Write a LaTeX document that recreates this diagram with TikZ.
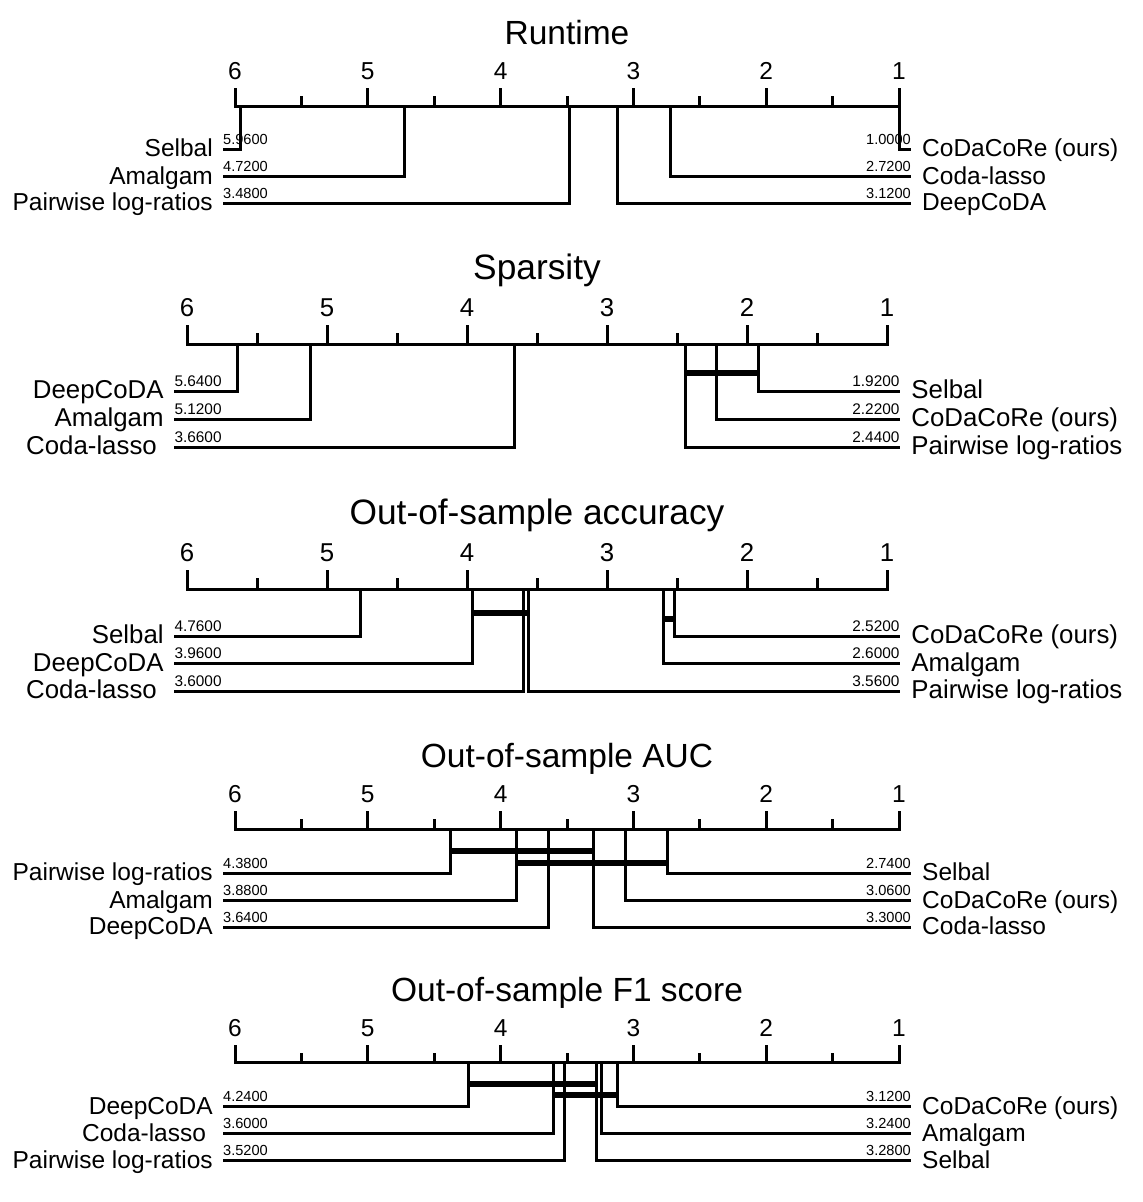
\documentclass[tikz,border=0pt]{standalone}
\usepackage{fontspec}
\setmainfont{Liberation Sans}
\newcommand\px{235}
\newcommand\pu{132.8}
\newcommand\py{106}
\newcommand\ps{1}
\newcommand\setpanel[4]{\renewcommand\px{#1}\renewcommand\pu{#2}\renewcommand\py{#3}\renewcommand\ps{#4}}
\tikzset{
  sized/.style={font={\pgfmathsetmacro\fs{#1*\ps}\fontsize{\fs pt}{\fs pt}\selectfont}},
  titletext/.style={sized=33.5, inner sep=0pt},
  ticktext/.style={sized=24.5, inner sep=0pt},
  labtext/.style={sized=24.5, inner sep=0pt},
  numtext/.style={sized=14.6, inner sep=0pt},
  axisline/.style={line width=3pt, line cap=rect},
  tickline/.style={line width=3pt},
  methline/.style={line width=3pt, line join=miter},
  cliquebar/.style={line width=5.7pt},
}
\newcommand\drawaxis[2]{%
  \node[titletext, anchor=base] (#1title) at ({\px+2.5*\pu},{\py-61.5*\ps}) {#2};
  \coordinate (#1r6) at (\px,\py);
  \coordinate (#1r1) at ({\px+5*\pu},\py);
  \draw[axisline] (#1r6) -- (#1r1);
  \foreach \k in {0,...,5}{
    \coordinate (#1m\k) at ({\px+\k*\pu},\py);
    \draw[tickline] (#1m\k) -- ++(0,{-18*\ps});
    \node[ticktext, anchor=base] (#1tick\k) at ({\px+\k*\pu},{\py-26.5*\ps}) {\the\numexpr6-\k\relax};
  }
  \foreach \k in {0,...,4}{
    \coordinate (#1h\k) at ({\px+(\k+0.5)*\pu},\py);
    \draw[tickline] (#1h\k) -- ++(0,{-10*\ps});
  }
}
\newcommand\methL[5][0]{%
  \coordinate (#2top) at ({\px+(6-#4)*\pu},\py);
  \coordinate (#2end) at ({\px-12*\ps},#5);
  \draw[methline] (#2top) |- (#2end);
  \node[numtext, anchor=base west] (#2num) at ({\px-12*\ps},{#5-4.7*\ps}) {#4};
  \node[labtext, anchor=base east] (#2lab) at ({\px-22*\ps-#1},{#5+7.5*\ps}) {#3};
}
\newcommand\methR[4]{%
  \coordinate (#1top) at ({\px+(6-#3)*\pu},\py);
  \coordinate (#1end) at ({\px+5*\pu+12*\ps},#4);
  \draw[methline] (#1top) |- (#1end);
  \node[numtext, anchor=base east] (#1num) at ({\px+5*\pu+12*\ps},{#4-4.7*\ps}) {#3};
  \node[labtext, anchor=base west] (#1lab) at ({\px+5*\pu+23*\ps},{#4+7.5*\ps}) {#2};
}
\newcommand\clique[4]{%
  \coordinate (#1a) at ({\px+(6-#2)*\pu},#4);
  \coordinate (#1b) at ({\px+(6-#3)*\pu},#4);
  \draw[cliquebar] (#1a) -- (#1b);
}
\begin{document}
\begin{tikzpicture}[x=1pt,y=-1pt]
\useasboundingbox[fill=white] (0,0) rectangle (1143,1202);
% Panel 1: Runtime
\setpanel{235}{132.8}{106}{1}
\drawaxis{p1}{Runtime}
\methL{p1selbal}{Selbal}{5.9600}{149}
\methL{p1amal}{Amalgam}{4.7200}{176.5}
\methL{p1pair}{Pairwise log-ratios}{3.4800}{203}
\methR{p1coda}{CoDaCoRe (ours)}{1.0000}{149}
\methR{p1lasso}{Coda-lasso}{2.7200}{176.5}
\methR{p1deep}{DeepCoDA}{3.1200}{203}
% Panel 2: Sparsity
\setpanel{187}{140}{344}{1.054}
\drawaxis{p2}{Sparsity}
\methL{p2deep}{DeepCoDA}{5.6400}{391}
\methL{p2amal}{Amalgam}{5.1200}{419}
\methL[6.8]{p2lasso}{Coda-lasso}{3.6600}{447}
\methR{p2selbal}{Selbal}{1.9200}{391}
\methR{p2coda}{CoDaCoRe (ours)}{2.2200}{419}
\methR{p2pair}{Pairwise log-ratios}{2.4400}{447}
\clique{p2c1}{2.44}{1.92}{373}
% Panel 3: accuracy
\setpanel{187}{140}{589}{1.054}
\drawaxis{p3}{Out-of-sample accuracy}
\methL{p3selbal}{Selbal}{4.7600}{636}
\methL{p3deep}{DeepCoDA}{3.9600}{663.5}
\methL[6.8]{p3lasso}{Coda-lasso}{3.6000}{691}
\methR{p3coda}{CoDaCoRe (ours)}{2.5200}{636}
\methR{p3amal}{Amalgam}{2.6000}{663.5}
\methR{p3pair}{Pairwise log-ratios}{3.5600}{691}
\clique{p3c1}{3.96}{3.56}{613}
\clique{p3c2}{2.60}{2.52}{619}
% Panel 4: AUC
\setpanel{235}{132.8}{829}{1}
\drawaxis{p4}{Out-of-sample AUC}
\methL{p4pair}{Pairwise log-ratios}{4.3800}{873}
\methL{p4amal}{Amalgam}{3.8800}{900.5}
\methL{p4deep}{DeepCoDA}{3.6400}{927}
\methR{p4selbal}{Selbal}{2.7400}{873}
\methR{p4coda}{CoDaCoRe (ours)}{3.0600}{900.5}
\methR{p4lasso}{Coda-lasso}{3.3000}{927}
\clique{p4c1}{4.38}{3.30}{851}
\clique{p4c2}{3.88}{2.74}{863}
% Panel 5: F1
\setpanel{235}{132.8}{1062.5}{1}
\drawaxis{p5}{Out-of-sample F1 score}
\methL{p5deep}{DeepCoDA}{4.2400}{1106.5}
\methL[6.8]{p5lasso}{Coda-lasso}{3.6000}{1133.5}
\methL{p5pair}{Pairwise log-ratios}{3.5200}{1160.5}
\methR{p5coda}{CoDaCoRe (ours)}{3.1200}{1106.5}
\methR{p5amal}{Amalgam}{3.2400}{1133.5}
\methR{p5selbal}{Selbal}{3.2800}{1160.5}
\clique{p5c1}{4.24}{3.28}{1084}
\clique{p5c2}{3.60}{3.12}{1095}
\end{tikzpicture}
\end{document}
